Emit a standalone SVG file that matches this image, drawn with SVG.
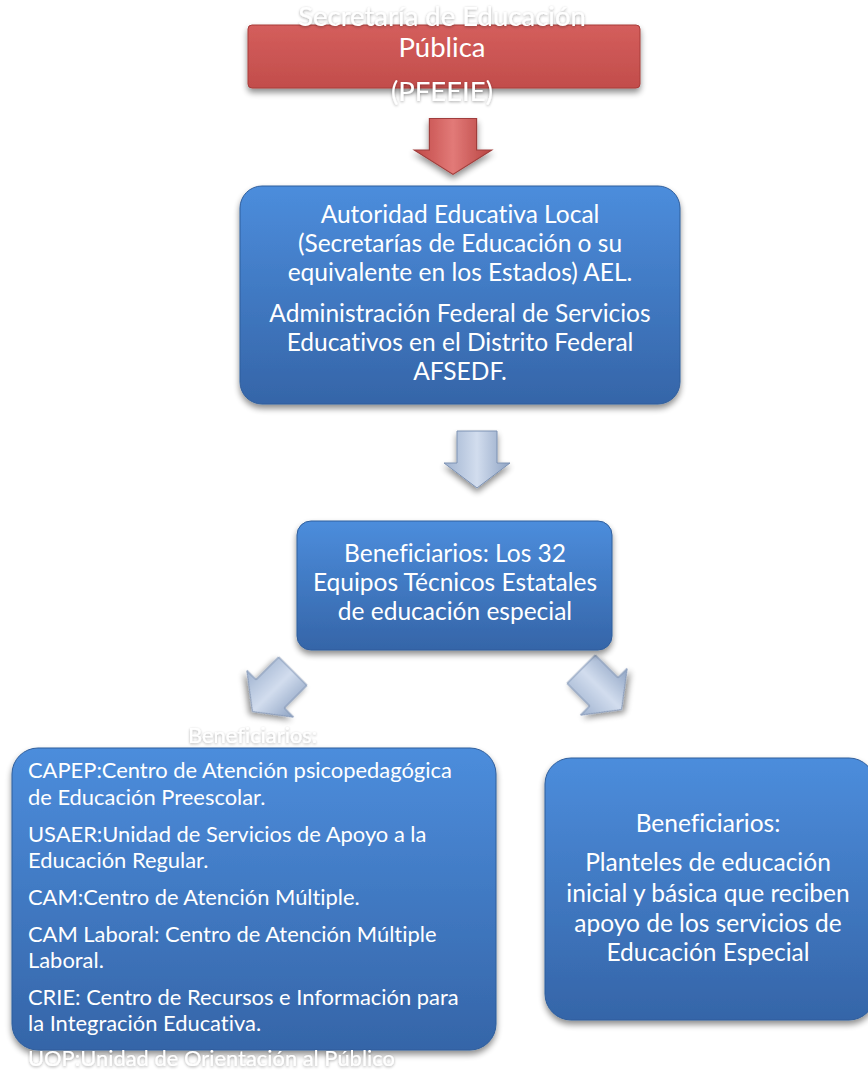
<svg xmlns="http://www.w3.org/2000/svg" width="868" height="1072" viewBox="0 0 868 1072">
<defs>
<linearGradient id="gBlue" x1="0" y1="0" x2="0" y2="1"><stop offset="0" stop-color="#4c8ddc"/><stop offset="1" stop-color="#3565a8"/></linearGradient>
<linearGradient id="gRed" x1="0" y1="0" x2="0" y2="1"><stop offset="0" stop-color="#d45e5c"/><stop offset="1" stop-color="#c24d4b"/></linearGradient>
<linearGradient id="gArrow" x1="0" y1="0" x2="1" y2="0"><stop offset="0" stop-color="#9fb2cf"/><stop offset="0.5" stop-color="#d2ddee"/><stop offset="1" stop-color="#8ea3c3"/></linearGradient>
<linearGradient id="gArrowR" x1="0" y1="0" x2="1" y2="0"><stop offset="0" stop-color="#c04846"/><stop offset="0.5" stop-color="#e27a78"/><stop offset="1" stop-color="#b84442"/></linearGradient>
<filter id="sh" x="-10%" y="-10%" width="120%" height="130%"><feGaussianBlur in="SourceAlpha" stdDeviation="3"/><feOffset dx="0" dy="4"/><feComponentTransfer><feFuncA type="linear" slope="0.45"/></feComponentTransfer><feMerge><feMergeNode/><feMergeNode in="SourceGraphic"/></feMerge></filter>
<filter id="tsh" x="-10%" y="-30%" width="120%" height="160%"><feGaussianBlur in="SourceAlpha" stdDeviation="1.5"/><feOffset dx="0" dy="1"/><feComponentTransfer><feFuncA type="linear" slope="0.35"/></feComponentTransfer><feMerge><feMergeNode/><feMergeNode in="SourceGraphic"/></feMerge></filter>
<path id="arr" d="M-20,-28 L20,-28 L20,4 L33,4 L0,29 L-33,4 L-20,4 Z"/>
</defs>
<style>
text{font-family:Lato,"Open Sans","Liberation Sans",sans-serif;fill:#ffffff;font-variant-ligatures:none}
.c{text-anchor:middle}
.f27{font-size:27.5px}
.f22{font-size:24.5px}
.f20{font-size:21.9px}
.box{fill:url(#gBlue);stroke:#2f5e9c;stroke-width:1;filter:url(#sh)}
.arrow{fill:url(#gArrow);stroke:#7d92b3;stroke-width:1;filter:url(#sh)}
</style>

<g id="node-sep">
<rect x="248" y="25" width="392" height="63" rx="4" fill="url(#gRed)" stroke="#a83c3a" stroke-width="1" filter="url(#sh)"/>
<text class="c f27" x="442" y="26" filter="url(#tsh)">Secretaría de Educación</text>
<text class="c f27" x="442" y="57">Pública</text>
<text class="c f27" x="442" y="101" filter="url(#tsh)">(PFEEIE)</text>
</g>

<g id="connectors">
<use href="#arr" transform="translate(453,146) scale(1.18,0.98)" fill="url(#gArrowR)" stroke="#a03e3c" stroke-width="1" filter="url(#sh)"/>
<use href="#arr" class="arrow" transform="translate(477,459)"/>
<use href="#arr" class="arrow" transform="translate(273,691) rotate(45)"/>
<use href="#arr" class="arrow" transform="translate(601,689) rotate(-45)"/>
</g>

<g id="node-ael">
<rect class="box" x="240" y="186" width="440" height="218" rx="22"/>
<text class="c f22" x="460" y="223">Autoridad Educativa Local</text>
<text class="c f22" x="460" y="252">(Secretarías de Educación o su</text>
<text class="c f22" x="460" y="281">equivalente en los Estados) AEL.</text>
<text class="c f22" x="460" y="322">Administración Federal de Servicios</text>
<text class="c f22" x="460" y="351">Educativos  en el Distrito Federal</text>
<text class="c f22" x="460" y="380">AFSEDF.</text>
</g>

<g id="node-equipos">
<rect class="box" x="297" y="521" width="315" height="129" rx="14"/>
<text class="c f22" x="455" y="562">Beneficiarios: Los 32</text>
<text class="c f22" x="455" y="591">Equipos Técnicos Estatales</text>
<text class="c f22" x="455" y="620">de educación especial</text>
</g>

<g id="node-servicios">
<text class="f20" x="188" y="743" opacity="0.9" filter="url(#tsh)">Beneficiarios:</text>
<rect class="box" x="12" y="748" width="484" height="302" rx="26"/>
<text class="f20" x="28" y="778">CAPEP:Centro de Atención psicopedagógica</text>
<text class="f20" x="28" y="805">de Educación Preescolar.</text>
<text class="f20" x="28" y="842">USAER:Unidad de Servicios de Apoyo a la</text>
<text class="f20" x="28" y="868">Educación Regular.</text>
<text class="f20" x="28" y="905">CAM:Centro de Atención Múltiple.</text>
<text class="f20" x="28" y="942">CAM Laboral: Centro de Atención Múltiple</text>
<text class="f20" x="28" y="968">Laboral.</text>
<text class="f20" x="28" y="1005">CRIE: Centro de Recursos e Información para</text>
<text class="f20" x="28" y="1031">la Integración Educativa.</text>
<text class="f20" x="28" y="1066" filter="url(#tsh)">UOP:Unidad de Orientación al Público</text>
</g>

<g id="node-planteles">
<rect class="box" x="545" y="758" width="330" height="262" rx="26"/>
<text class="c f22" x="708" y="832">Beneficiarios:</text>
<text class="c f22" x="708" y="871">Planteles de educación</text>
<text class="c f22" x="708" y="902">inicial y básica que reciben</text>
<text class="c f22" x="708" y="932">apoyo de los servicios de</text>
<text class="c f22" x="708" y="961">Educación Especial</text>
</g>
</svg>
